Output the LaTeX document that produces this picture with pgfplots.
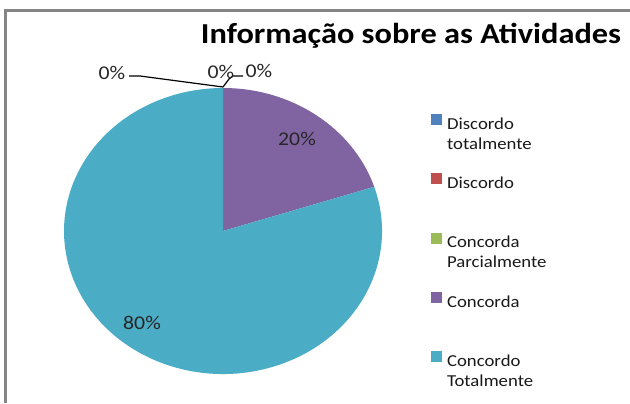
\documentclass[border=0pt]{standalone}
\usepackage{pgfplots}
\pgfplotsset{compat=1.18}
\usepackage{fontspec}
\setmainfont[FakeStretch=1.12]{Carlito}
\definecolor{cblue}{HTML}{4F81BD}
\definecolor{cred}{HTML}{C0504D}
\definecolor{cgreen}{HTML}{9BBB59}
\definecolor{cpurple}{HTML}{8064A2}
\definecolor{caqua}{HTML}{4BACC6}
\definecolor{frame}{HTML}{858585}
% percentages of each answer
\def\vDT{0}\def\vD{0}\def\vCP{0}\def\vC{20}\def\vCT{80}
\begin{document}
\begin{tikzpicture}
\begin{axis}[
  scale only axis, width=630bp, height=403bp,
  xmin=0, xmax=630, ymin=-403, ymax=0,
  hide axis, clip=false,
  legend style={at={(axis cs:431,-114)}, anchor=north west, draw=none, fill=none,
    inner sep=0pt, row sep=40.5bp, column sep=3.5bp,
    font=\fontsize{16.8}{20}\selectfont, text=black!90},
  legend cell align=left,
]
% pie, centre (223,231), radii 159 x 143, starting at 12 o'clock, clockwise
\pgfmathsetmacro{\aA}{90}
\pgfmathsetmacro{\aB}{\aA-3.6*\vDT}
\pgfmathsetmacro{\aC}{\aB-3.6*\vD}
\pgfmathsetmacro{\aD}{\aC-3.6*\vCP}
\pgfmathsetmacro{\aE}{\aD-3.6*\vC}
\pgfmathsetmacro{\aF}{\aE-3.6*\vCT}
\fill[cpurple] (axis cs:223,-231) -- ++(axis direction cs:{159*cos(\aD)},{143*sin(\aD)})
   arc[start angle=\aD, end angle=\aE, x radius=159, y radius=143] -- cycle;
\fill[caqua] (axis cs:223,-231) -- ++(axis direction cs:{159*cos(\aE)},{143*sin(\aE)})
   arc[start angle=\aE, end angle=\aF, x radius=159, y radius=143] -- cycle;

\addlegendimage{legend image code/.code={\fill[cblue] (0bp,0bp) rectangle (10bp,10bp);}}
\addlegendentry{\parbox[t]{130bp}{Discordo\\totalmente}}
\addlegendimage{legend image code/.code={\fill[cred] (0bp,0bp) rectangle (10bp,10bp);}}
\addlegendentry{\parbox[t]{130bp}{Discordo}}
\addlegendimage{legend image code/.code={\fill[cgreen] (0bp,0bp) rectangle (10bp,10bp);}}
\addlegendentry{\parbox[t]{130bp}{Concorda\\Parcialmente}}
\addlegendimage{legend image code/.code={\fill[cpurple] (0bp,0bp) rectangle (10bp,10bp);}}
\addlegendentry{\parbox[t]{130bp}{Concorda}}
\addlegendimage{legend image code/.code={\fill[caqua] (0bp,0bp) rectangle (10bp,10bp);}}
\addlegendentry{\parbox[t]{130bp}{Concordo\\Totalmente}}

% frame
\draw[frame, line width=3bp] (axis cs:5,-403) -- (axis cs:5,-11) -- (axis cs:630,-11);
% title
\node[font=\fontsize{29}{34}\selectfont\bfseries, anchor=base] at (axis cs:411,-44) {Informação sobre as Atividades};
% leader lines
\draw[black, line width=1.2bp] (axis cs:129,-76) -- (axis cs:140,-76) -- (axis cs:223,-87);
\draw[black, line width=1.2bp] (axis cs:223,-87) -- (axis cs:229,-79) -- (axis cs:233,-76) -- (axis cs:243,-76);
% data labels
\begin{scope}[font=\fontsize{19.5}{23}\selectfont, text=black!85]
\node at (axis cs:112,-73) {0\%};
\node at (axis cs:221,-72) {0\%};
\node at (axis cs:259,-71) {0\%};
\node at (axis cs:297,-139) {20\%};
\node at (axis cs:142,-323) {80\%};
\end{scope}
\end{axis}
\pgfresetboundingbox
\path (current axis.south west) rectangle (current axis.north east);
\end{tikzpicture}
\end{document}
